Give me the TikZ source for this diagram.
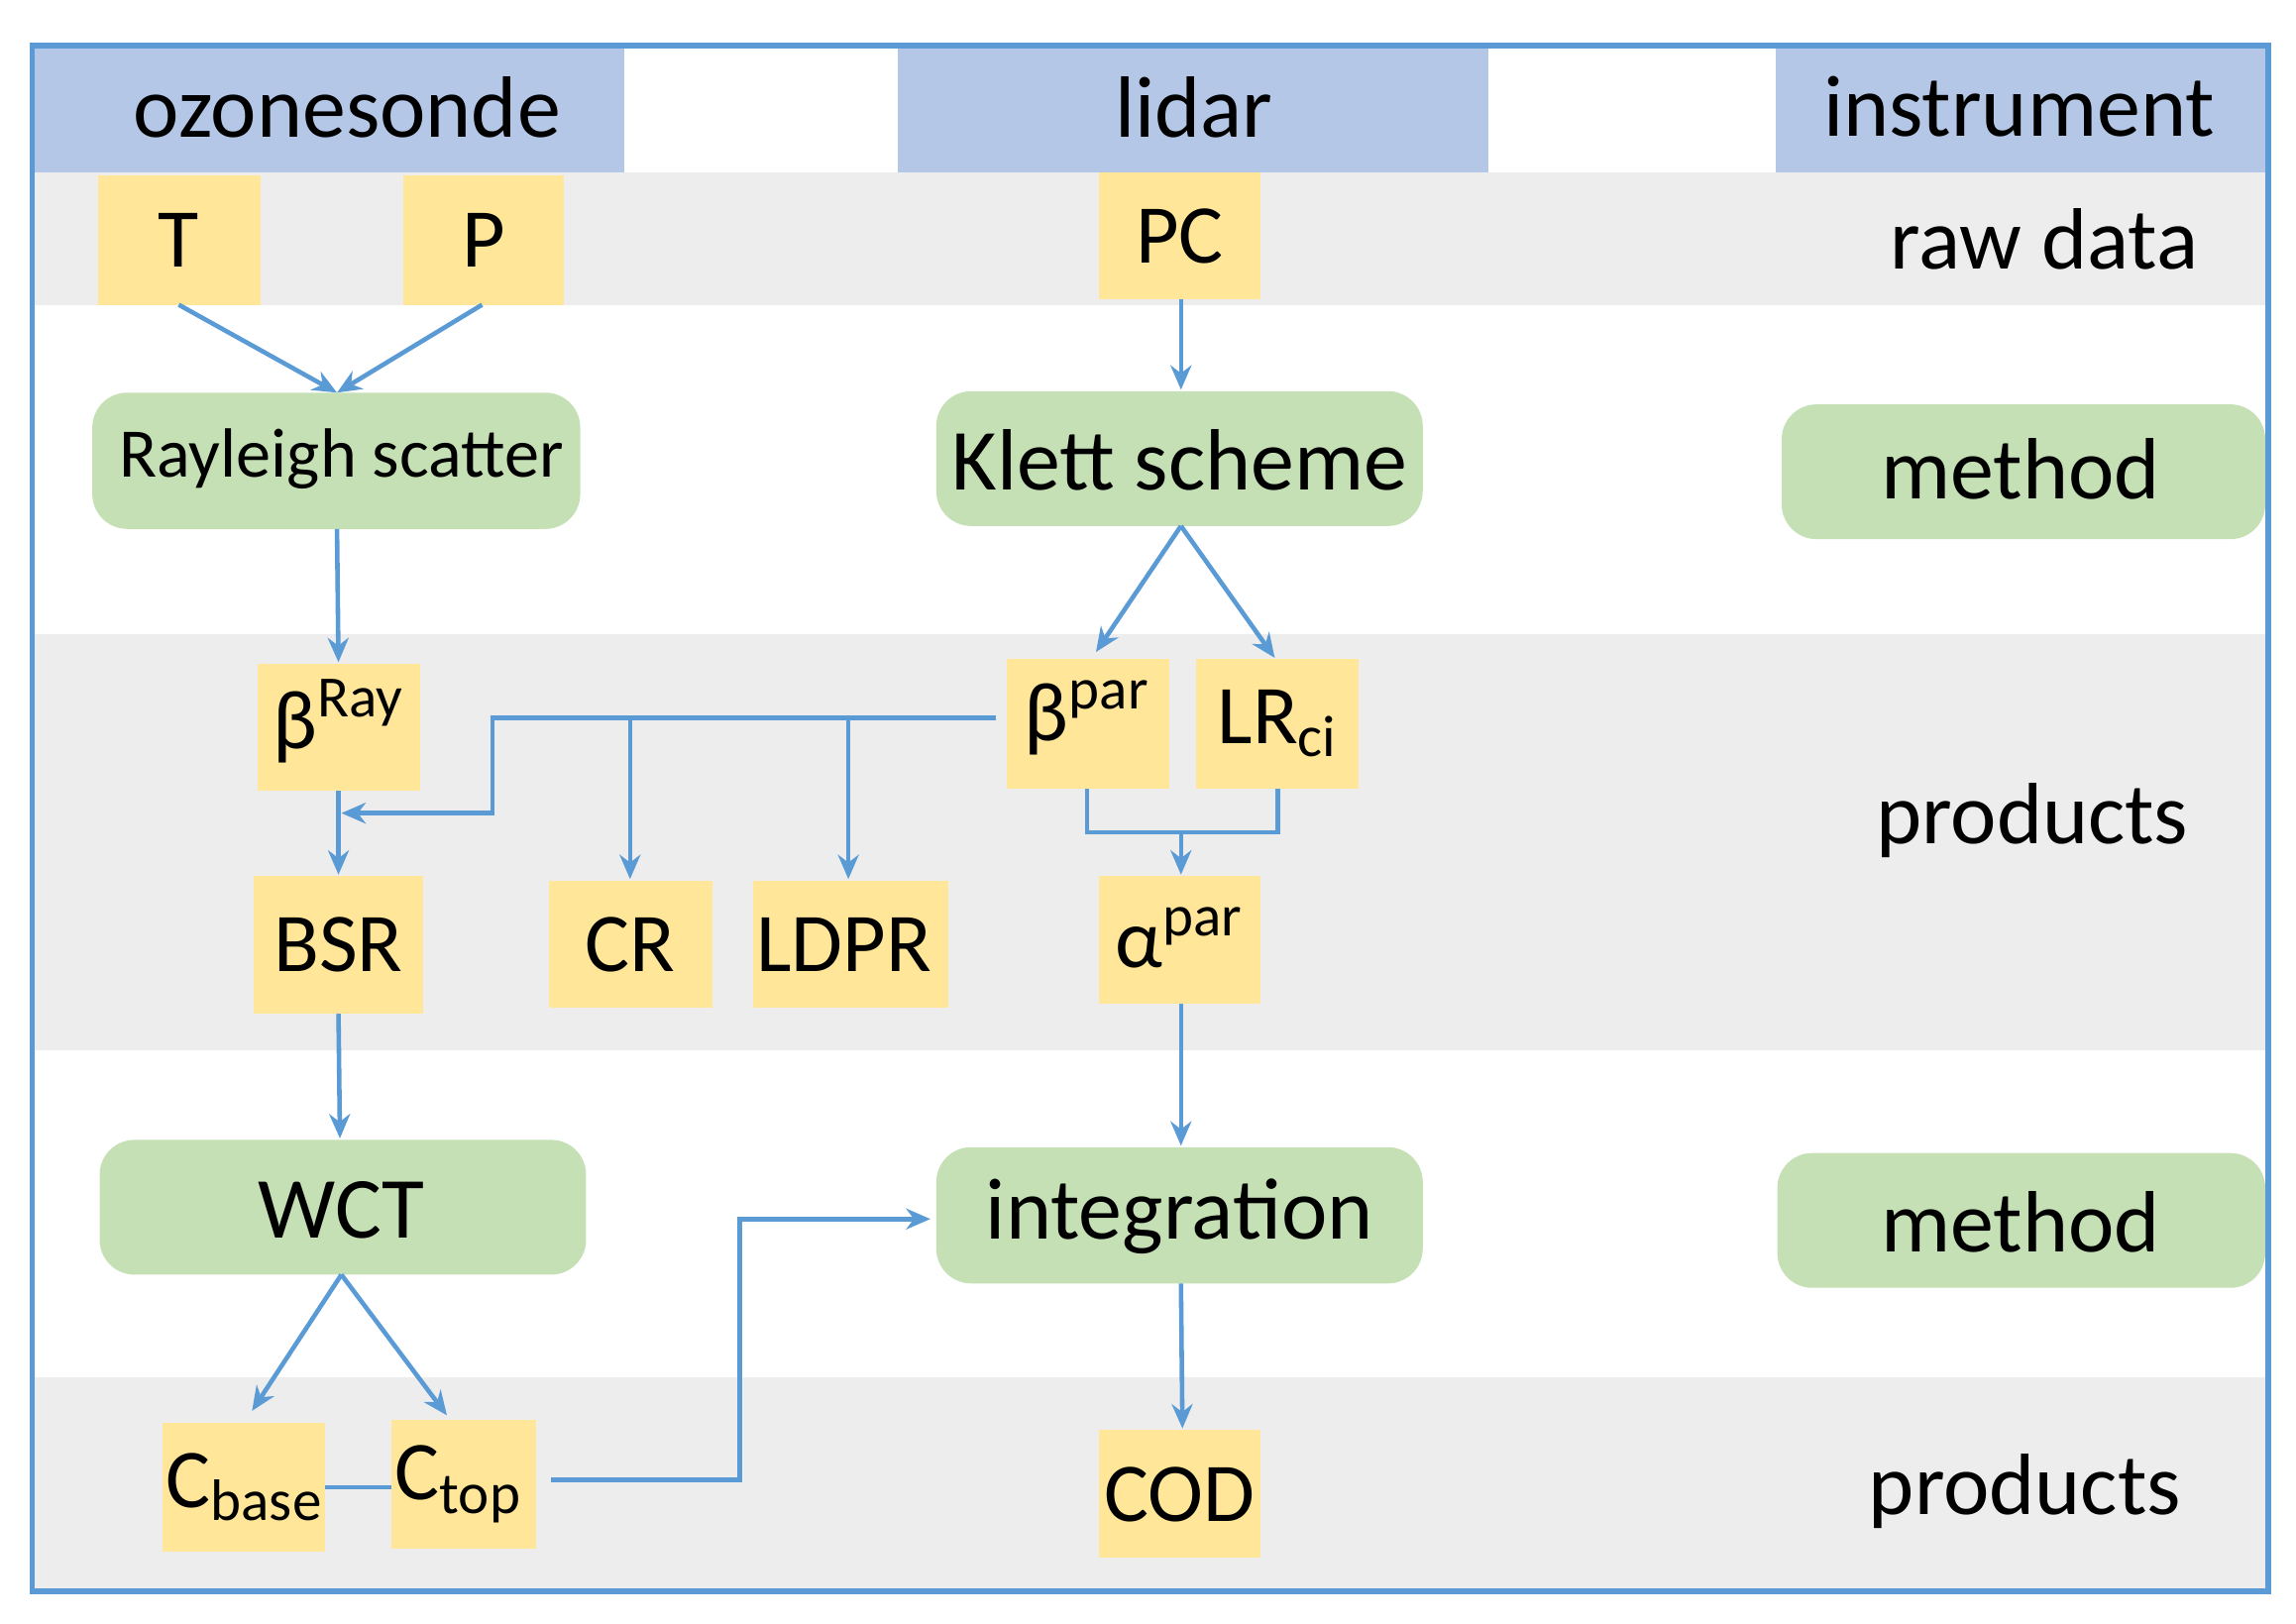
\documentclass[tikz,border=0pt]{standalone}
\usepackage{fontspec}
\setmainfont{Carlito}
\usetikzlibrary{arrows.meta}
\definecolor{hdr}{HTML}{B4C7E7}
\definecolor{band}{HTML}{EDEDED}
\definecolor{dat}{HTML}{FFE699}
\definecolor{meth}{HTML}{C5E0B4}
\definecolor{flow}{HTML}{5B9BD5}
\tikzset{
  data/.style={fill=dat, inner sep=0pt, font=\fontsize{24}{26}\selectfont},
  meth/.style={fill=meth, rounded corners=6pt, inner sep=0pt, font=\fontsize{25}{27}\selectfont},
  lbl/.style={font=\fontsize{25}{27}\selectfont},
  arr/.style={draw=flow, line width=1.3pt, -{Stealth[length=7pt,width=6pt]}},
  ln/.style={draw=flow, line width=1.3pt}
}
\newcommand{\bx}[5]{% name, style, x1,y1 / x2,y2 in px
  \path[#2] (#3) rectangle (#4) node[pos=.5] (#1) {#5};}
\begin{document}
\begin{tikzpicture}[x=0.014786cm, y=-0.014786cm]
\useasboundingbox (0,0) rectangle (1567,1108);
% bands
\fill[band] (22,118) rectangle (1548,208);
\fill[band] (22,433) rectangle (1548,717);
\fill[band] (22,940) rectangle (1548,1086);
\fill[hdr] (22,32) rectangle (426,118);
\fill[hdr] (613,32) rectangle (1016,118);
\fill[hdr] (1212,32) rectangle (1548,118);
\node[lbl] at (237,73) {ozonesonde};
\node[lbl] at (815,73) {lidar};
\node[lbl] at (1378,73) {instrument};
\node[lbl] at (1395,163) {raw data};
\node[lbl] at (1387,560) {products};
\node[lbl] at (1382,1018) {products};
% boxes
\fill[dat] (67,120) rectangle (178,208);   \node[data] (T) at (122,164) {T};
\fill[dat] (275,120) rectangle (385,208);  \node[data] (P) at (330,164) {P};
\fill[dat] (750,118) rectangle (860,204);  \node[data] (PC) at (805,161) {PC};
\fill[meth,rounded corners=10pt] (63,268) rectangle (396,361);
\node[meth,fill=none,font=\fontsize{20}{22}\selectfont] (ray) at (233,313) {Rayleigh scatter};
\fill[meth,rounded corners=10pt] (639,267) rectangle (971,359);
\node[meth,fill=none] (klett) at (805,314) {Klett scheme};
\fill[meth,rounded corners=10pt] (1216,276) rectangle (1546,368);
\node[meth,fill=none] (m1) at (1379,320) {method};
\fill[meth,rounded corners=10pt] (68,778) rectangle (400,870);
\node[meth,fill=none] (wct) at (233,826) {WCT};
\fill[meth,rounded corners=10pt] (639,783) rectangle (971,876);
\node[meth,fill=none] (integ) at (805,830) {integration};
\fill[meth,rounded corners=10pt] (1213,787) rectangle (1546,879);
\node[meth,fill=none] (m2) at (1379,834) {method};
\fill[dat] (176,453) rectangle (287,540);  \node[data] (bray) at (231,492) {β\textsuperscript{Ray}};
\fill[dat] (687,450) rectangle (798,538);  \node[data] (bpar) at (742,490) {β\textsuperscript{par}};
\fill[dat] (816,450) rectangle (927,538);  \node[data] (lr) at (872,494) {LR\textsubscript{ci}};
\fill[dat] (173,598) rectangle (289,692);  \node[data] (bsr) at (231,645) {BSR};
\fill[dat] (375,601) rectangle (486,688);  \node[data] (cr) at (430,645) {CR};
\fill[dat] (514,601) rectangle (647,688);  \node[data] (ldpr) at (576,645) {LDPR};
\fill[dat] (750,598) rectangle (860,685);  \node[data] (apar) at (805,640) {α\textsuperscript{par}};
\fill[dat] (111,971) rectangle (222,1059); \node[data] (cb) at (167,1015) {C\textsubscript{base}};
\fill[dat] (267,969) rectangle (366,1057); \node[data] (ct) at (313,1013) {C\textsubscript{top}};
\fill[dat] (750,976) rectangle (860,1063); \node[data] (cod) at (805,1020) {COD};
% connectors
\coordinate (rayT) at (230,268);
\draw[arr] (122,208) -- (rayT);
\draw[arr] (329,208) -- (rayT);
\draw[arr] (806,204) -- (806,266);
\draw[arr] (230,361) -- (231,452);
\draw[arr] (806,359) -- (748,445);
\draw[arr] (806,359) -- (870,449);
\draw[arr] (680,490) -- (336,490) -- (336,555) -- (233,555);
\draw[arr] (430,490) -- (430,600);
\draw[arr] (579,490) -- (579,600);
\draw[arr] (231,540) -- (231,597);
\draw[ln] (742,538) -- (742,568) -- (872,568) -- (872,538);
\draw[arr] (806,568) -- (806,597);
\draw[arr] (806,685) -- (806,782);
\draw[arr] (231,692) -- (232,777);
\draw[arr] (233,870) -- (172,963);
\draw[arr] (233,870) -- (305,966);
\draw[ln] (222,1015) -- (267,1015);
\draw[arr] (376,1010) -- (505,1010) -- (505,832) -- (635,832);
\draw[arr] (806,876) -- (807,975);
\draw[draw=flow, line width=1.6pt] (22,31) rectangle (1548,1086);
\end{tikzpicture}
\end{document}
